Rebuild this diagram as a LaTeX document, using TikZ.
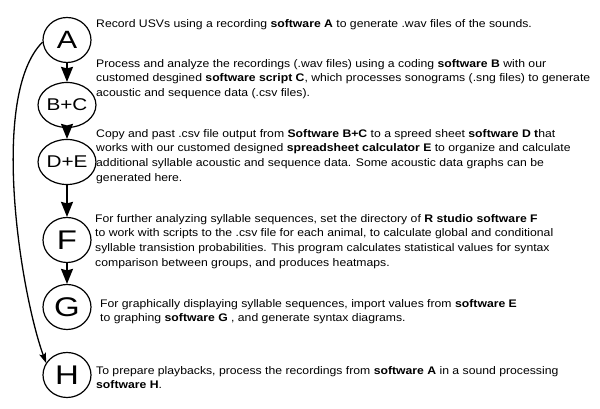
\documentclass[tikz,border=0pt]{standalone}
\usepackage{fontspec}
\setmainfont{Liberation Sans}[FakeStretch=1.11]
\usetikzlibrary{positioning, arrows.meta, shapes.geometric}
\tikzstyle{stage} = [ellipse, draw=black, line width=1.2pt, minimum width=48pt, minimum height=45pt, inner sep=0pt, font=\fontsize{27}{27}\selectfont]
\tikzstyle{small stage} = [stage, font=\fontsize{17}{17}\selectfont]
\tikzstyle{desc} = [anchor=north west, inner sep=0pt, align=left, font=\fontsize{11}{14.8}\selectfont]
\tikzstyle{arrow} = [line width=1.7pt, -{Stealth[length=15pt, width=12pt, inset=1.5pt]}]
\tikzstyle{bypass} = [line width=1.3pt, -{Stealth[length=10pt, width=7pt, inset=2pt]}]

\begin{document}
\begin{tikzpicture}
    \useasboundingbox (0,0) rectangle (600pt,409pt);
    \node(rec)[stage, font=\fontsize{25}{25}\selectfont] at (67pt,369pt) {\scalebox{1.1}[1]{A}};
    \node(code)[small stage, node distance=65pt, below of=rec] {\scalebox{1.1}[1]{B+C}};
    \node(sheet)[small stage, node distance=57pt, below of=code] {\scalebox{1.1}[1]{D+E}};
    \node(rstudio)[stage, node distance=78pt, below of=sheet] {\scalebox{1.1}[1]{F}};
    \node(graph)[stage, node distance=67pt, below of=rstudio] {\scalebox{1.1}[1]{G}};
    \node(play)[stage, node distance=68pt, below of=graph] {\scalebox{1.1}[1]{H}};
    %
    \node(recText)[desc] at (96pt,390pt) {Record USVs using a recording \textbf{software A} to generate .wav files of the sounds.};
    \node(codeText)[desc] at (96pt,350pt) {Process and analyze the recordings (.wav files) using a coding \textbf{software B} with our\\customed desgined \textbf{software script C}, which processes sonograms (.sng files) to generate\\acoustic and sequence data (.csv files).};
    \node(sheetText)[desc] at (96pt,280pt) {Copy and past .csv file output from \textbf{Software B+C} to a spreed sheet \textbf{software D t}hat\\works with our customed designed \textbf{spreadsheet calculator E} to organize and calculate\\additional syllable acoustic and sequence data. Some acoustic data graphs can be\\generated here.};
    \node(rstudioText)[desc] at (95pt,195pt) {For further analyzing syllable sequences, set the directory of \textbf{R studio software F}\\to work with scripts to the .csv file for each animal, to calculate global and conditional\\syllable transistion probabilities. This program calculates statistical values for syntax\\comparison between groups, and produces heatmaps.};
    \node(graphText)[desc] at (100pt,110pt) {For graphically displaying syllable sequences, import values from \textbf{software E}\\to graphing \textbf{software G} , and generate syntax diagrams.};
    \node(playText)[desc] at (96pt,43pt) {To prepare playbacks, process the recordings from \textbf{software A} in a sound processing\\\textbf{software H}.};
    %
    \draw[arrow](rec)--(code);
    \draw[arrow](code)--(sheet);
    \draw[arrow](sheet)--(rstudio);
    \draw[arrow](rstudio)--(graph);
    \draw[bypass](rec.185) to [out=225, in=110, looseness=0.6] (play.150);
\end{tikzpicture}
\end{document}
